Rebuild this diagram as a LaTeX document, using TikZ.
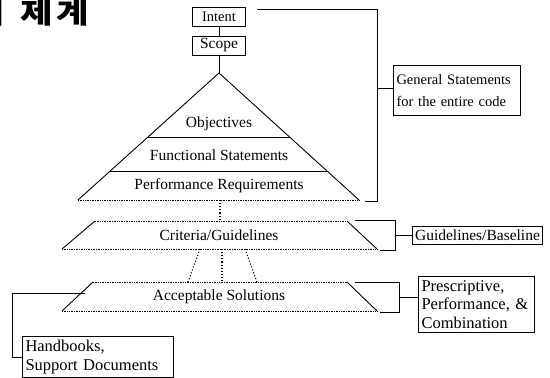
\documentclass[tikz,border=0pt]{standalone}
\usepackage{fontspec}
\setmainfont{Liberation Serif}
\newfontfamily\krfont{Noto Sans CJK KR}
\usetikzlibrary{calc}
\begin{document}
\begin{tikzpicture}[x=1pt,y=-1pt,line width=0.9pt,
  lab/.style={font=\fontsize{15.5}{18}\selectfont,inner sep=0pt},
  topbox/.style={draw,line width=1pt,minimum width=53pt,minimum height=19pt,inner sep=1pt},
  sidebox/.style={draw,line width=1pt,align=left,anchor=north west,inner xsep=3pt,inner ysep=1pt},
  edgedot/.style={densely dotted,line width=0.7pt},
  linkdot/.style={dotted,line width=1.1pt}]
\useasboundingbox (0,0) rectangle (550,378);

% title (cut at the left edge, as in the reference)
\node[anchor=base east,inner sep=0pt,font=\krfont\bfseries\fontsize{29}{33}\selectfont] (title) at (90,23) {\scalebox{1.22}[1]{의}\hspace{15pt}\scalebox{1.22}[1]{제}\hspace{4pt}\scalebox{1.22}[1]{계}};

% top boxes
\node[topbox,font=\fontsize{14.5}{16}\selectfont] (intent) at (219,16.5) {Intent};
\node[topbox,font=\fontsize{15.5}{17}\selectfont] (scope) at (219,45.5) {Scope};
\coordinate (apex) at (219,73);
\draw (intent.south) -- (scope.north);
\draw (scope.south) -- (apex);

% triangle
\coordinate (bl) at (78,200);
\coordinate (br) at (359,200);
\draw (bl) -- (apex) -- (br);
\draw[edgedot] (bl) -- (br);
\draw ($(apex)!0.504!(bl)$) -- ($(apex)!0.504!(br)$);
\draw ($(apex)!0.772!(bl)$) -- ($(apex)!0.772!(br)$);
\node[lab] (obj) at (219,124) {Objectives};
\node[lab] (fun) at (219,155) {Functional Statements};
\node[lab] (perf) at (219,186) {Performance Requirements};

% criteria
\coordinate (c1) at (95,221);
\coordinate (c2) at (347,221);
\coordinate (c3) at (377,249);
\coordinate (c4) at (62,249);
\draw (c1) -- (c4);
\draw (c2) -- (c3);
\draw[edgedot] (c1) -- (c2);
\draw[edgedot] (c4) -- (c3);
\node[lab] (crit) at (219,235) {Criteria/Guidelines};

% acceptable solutions
\coordinate (a1) at (93,282);
\coordinate (a2) at (347,282);
\coordinate (a3) at (377,311);
\coordinate (a4) at (62,311);
\draw (a1) -- (a4);
\draw (a2) -- (a3);
\draw[edgedot] (a1) -- (a2);
\draw[edgedot] (a4) -- (a3);
\node[lab] (acc) at (219,297) {Acceptable Solutions};

% dotted links
\coordinate (bm) at (220,200);
\coordinate (cm) at (220,221);
\draw[linkdot] (bm) -- (cm);
\coordinate (l1s) at (200,249); \coordinate (l1e) at (188,282);
\coordinate (l2s) at (222,249); \coordinate (l2e) at (222,282);
\coordinate (l3s) at (245,249); \coordinate (l3e) at (257,282);
\draw[linkdot] (l1s) -- (l1e);
\draw[linkdot] (l2s) -- (l2e);
\draw[linkdot] (l3s) -- (l3e);

% general statements bracket
\node[sidebox,minimum width=127pt,minimum height=50pt,text width=121pt,font=\fontsize{14.5}{22}\selectfont] (gen) at (393,65) {General Statements\\for the entire code};
\coordinate (g1) at (257,9);
\coordinate (g2) at (377,9);
\coordinate (g3) at (377,201);
\coordinate (g4) at (365,201);
\coordinate (gt) at (377,88);
\draw (g1) -- (g2) -- (g3) -- (g4);
\draw (gt) -- (gt -| gen.west);

% guidelines bracket
\node[sidebox,minimum width=130pt,minimum height=18pt,inner xsep=1pt,font=\fontsize{15.5}{17}\selectfont] (guide) at (412,226) {Guidelines/Baseline};
\coordinate (k1) at (355,220);
\coordinate (k2) at (395,220);
\coordinate (k3) at (395,250);
\coordinate (k4) at (380,250);
\coordinate (kt) at (395,235);
\draw (k1) -- (k2) -- (k3) -- (k4);
\draw (kt) -- (kt -| guide.west);

% prescriptive bracket
\node[sidebox,minimum width=116pt,minimum height=56pt,text width=110pt,font=\fontsize{16.5}{18.5}\selectfont] (pres) at (418,276) {Prescriptive,\\Performance, \&\\Combination};
\coordinate (p1) at (355,282);
\coordinate (p2) at (399,282);
\coordinate (p3) at (399,312);
\coordinate (p4) at (380,312);
\coordinate (pt) at (399,297);
\draw (p1) -- (p2) -- (p3) -- (p4);
\draw (pt) -- (pt -| pres.west);

% handbooks bracket
\node[sidebox,minimum width=151pt,minimum height=41pt,text width=145pt,font=\fontsize{16.5}{19}\selectfont] (hand) at (22,336) {Handbooks,\\Support Documents};
\coordinate (h1) at (85,293);
\coordinate (h2) at (12,293);
\coordinate (h3) at (12,357);
\draw (h1) -- (h2) -- (h3) -- (h3 -| hand.west);
\end{tikzpicture}
\end{document}
